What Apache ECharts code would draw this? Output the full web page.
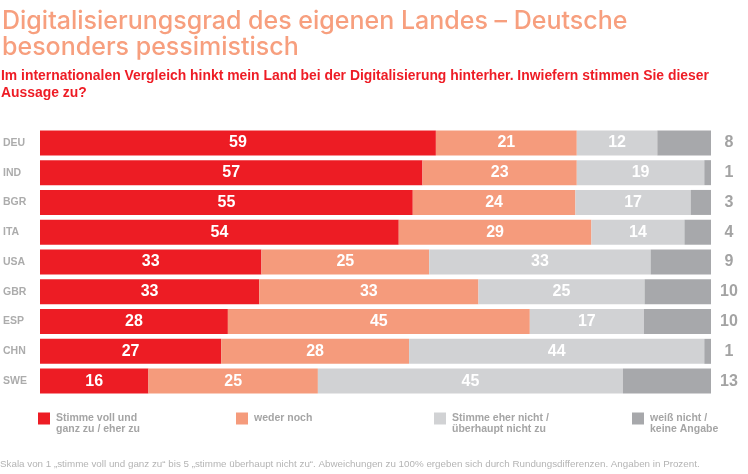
<!DOCTYPE html>
<html>
<head>
<meta charset="utf-8">
<script src="https://cdn.jsdelivr.net/npm/echarts@6/dist/echarts.min.js"></script>
<style>
html, body { margin: 0; padding: 0; background: #fff; }
#chart { width: 748px; height: 474px; }
</style>
</head>
<body>
<div id="chart"></div>
<script>
var countries = ['DEU', 'IND', 'BGR', 'ITA', 'USA', 'GBR', 'ESP', 'CHN', 'SWE'];
var stimmeZu = [59, 57, 55, 54, 33, 33, 28, 27, 16];
var wederNoch = [21, 23, 24, 29, 25, 33, 45, 28, 25];
var eherNicht = [12, 19, 17, 14, 33, 25, 17, 44, 45];
var weissNicht = [8, 1, 3, 4, 9, 10, 10, 1, 13];
var seriesNames = ['Stimme voll und\nganz zu / eher zu', 'weder noch', 'Stimme eher nicht /\nüberhaupt nicht zu', 'weiß nicht /\nkeine Angabe'];
var colors = ['#ed1c24', '#f59b7c', '#d1d2d4', '#a7a8ab'];

var narrow = '"Liberation Sans Narrow", "Arial Narrow", "Liberation Sans", sans-serif';
var allSeries = [stimmeZu, wederNoch, eherNicht, weissNicht];

// bars are stretched to the row total so every row ends at the same edge
function rowTotal(i) {
	return stimmeZu[i] + wederNoch[i] + eherNicht[i] + weissNicht[i];
}

var myChart = echarts.init(document.getElementById('chart'));

var series = allSeries.map(function(values, s) {
	return {
		name: seriesNames[s],
		type: 'bar',
		stack: 'total',
		barWidth: 25,
		itemStyle: { color: colors[s] },
		data: values.map(function(v, i) {
			return { value: v / rowTotal(i) * 100, raw: v };
		}),
		label: s < 3 ? {
			show: true,
			position: 'inside',
			color: '#fff',
			fontFamily: narrow,
			fontWeight: 'bold',
			fontSize: 16,
			formatter: function(p) { return p.data.raw; }
		} : {
			show: true,
			position: 'right',
			distance: 18,
			align: 'center',
			color: '#a3a3a3',
			fontFamily: narrow,
			fontWeight: 'bold',
			fontSize: 16,
			formatter: function(p) { return p.data.raw; }
		}
	};
});

var option = {
	animation: false,
	title: [{
		text: 'Digitalisierungsgrad des eigenen Landes – Deutsche\nbesonders pessimistisch',
		left: -3,
		top: 3,
		textStyle: {
			color: '#f79f7e',
			fontFamily: 'Inter, "Liberation Sans", sans-serif',
			fontWeight: 500,
			fontSize: 25,
			lineHeight: 26
		}
	}, {
		text: 'Im internationalen Vergleich hinkt mein Land bei der Digitalisierung hinterher. Inwiefern stimmen Sie dieser\nAussage zu?',
		left: -4,
		top: 63,
		textStyle: {
			color: '#ee1c25',
			fontFamily: narrow,
			fontWeight: 'bold',
			fontSize: 13.9,
			lineHeight: 17
		}
	}, {
		text: 'Skala von 1 „stimme voll und ganz zu“ bis 5 „stimme überhaupt nicht zu“. Abweichungen zu 100% ergeben sich durch Rundungsdifferenzen. Angaben in Prozent.',
		left: -5,
		top: 454,
		textStyle: {
			color: '#b4b4b4',
			fontFamily: narrow,
			fontWeight: 'normal',
			fontSize: 9.8
		}
	}],
	legend: {
		left: 38,
		top: 402,
		width: 740,
		padding: 0,
		itemWidth: 12,
		itemHeight: 12,
		itemGap: 82,
		icon: 'rect',
		selectedMode: false,
		data: seriesNames,
		// two-line names hang down from the icon: first line level with it
		formatter: function(name) {
			return name.indexOf('\n') >= 0 ? ' \n' + name : name;
		},
		textStyle: {
			color: '#a5a5a5',
			fontFamily: narrow,
			fontWeight: 'bold',
			fontSize: 10.5,
			lineHeight: 11,
			width: 98,
			padding: [0, 0, 0, 1]
		}
	},
	grid: {
		left: 38,
		right: 37,
		top: 128,
		bottom: 78
	},
	xAxis: {
		type: 'value',
		min: 0,
		max: 100,
		show: false
	},
	yAxis: {
		type: 'category',
		data: countries,
		inverse: true,
		axisLine: { show: false },
		axisTick: { show: false },
		axisLabel: {
			align: 'left',
			margin: 37,
			color: '#acacac',
			fontFamily: narrow,
			fontWeight: 'bold',
			fontSize: 10.5
		}
	},
	series: series
};
myChart.setOption(option);
</script>
</body>
</html>
